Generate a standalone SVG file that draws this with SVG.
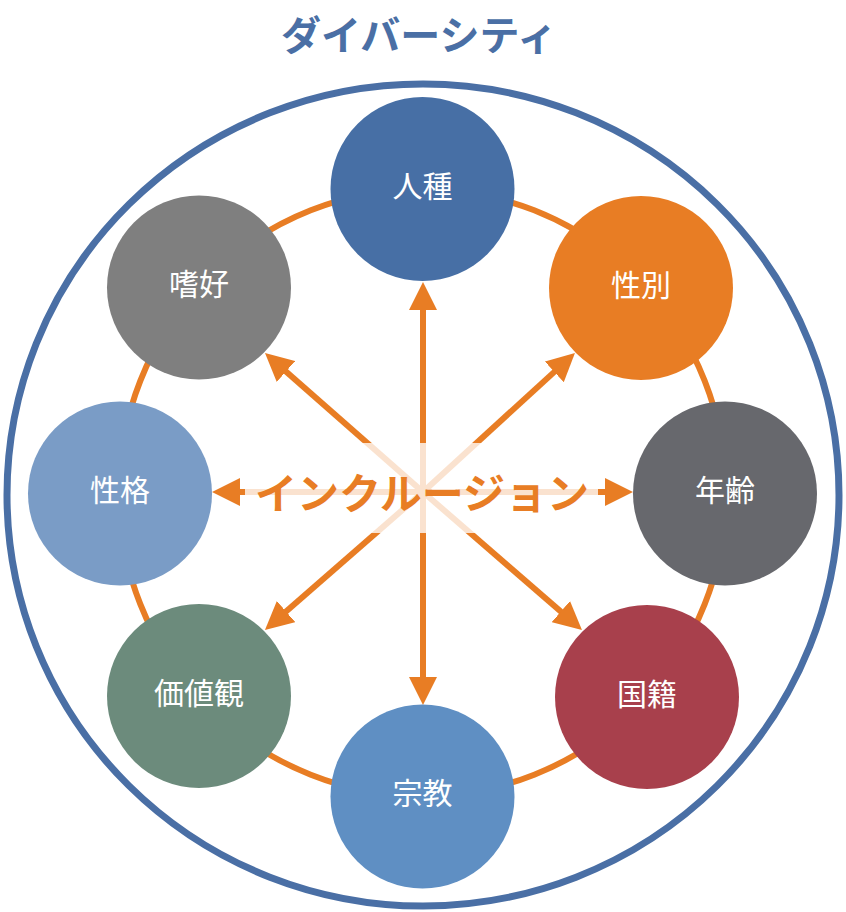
<svg xmlns="http://www.w3.org/2000/svg" width="846" height="912" viewBox="0 0 846 912">
<style>
.node-label{font-family:"Noto Sans CJK JP","Noto Sans",sans-serif;font-size:30px;fill:#ffffff;text-anchor:middle;}
.title{font-family:"Noto Sans CJK JP","Noto Sans",sans-serif;font-size:40px;font-weight:bold;fill:#4A6FA5;text-anchor:middle;}
.center{font-family:"Noto Sans CJK JP","Noto Sans",sans-serif;font-size:42px;font-weight:bold;fill:#E87D24;text-anchor:middle;}
.arrow{stroke:#E87D24;stroke-width:6;fill:none;marker-end:url(#ah);}
</style>
<defs>
<marker id="ah" markerUnits="userSpaceOnUse" markerWidth="28" markerHeight="28" viewBox="0 0 28 28" refX="16" refY="14" orient="auto">
<path d="M0,0 L28,14 L0,28 z" fill="#E87D24"/>
</marker>
</defs>
<rect width="846" height="912" fill="#ffffff"/>
<text class="title" x="419" y="50">ダイバーシティ</text>
<ellipse cx="423" cy="495" rx="416" ry="411" fill="none" stroke="#4A6FA5" stroke-width="7"/>
<circle cx="422.5" cy="492.5" r="303.5" fill="none" stroke="#E87D24" stroke-width="6"/>
<g id="connectors">
<line class="arrow" x1="423" y1="492" x2="423" y2="294"/>
<line class="arrow" x1="423" y1="492" x2="423" y2="693"/>
<line class="arrow" x1="423" y1="492" x2="621" y2="492"/>
<line class="arrow" x1="423" y1="492" x2="224" y2="492"/>
<line class="arrow" x1="423" y1="492" x2="274" y2="360.9"/>
<line class="arrow" x1="423" y1="492" x2="566.1" y2="361.1"/>
<line class="arrow" x1="423" y1="492" x2="274" y2="622.1"/>
<line class="arrow" x1="423" y1="492" x2="572.9" y2="622.1"/>
</g>
<g id="inclusion">
<rect x="245" y="443" width="353" height="90" fill="#ffffff" fill-opacity="0.78"/>
<text class="center" x="422" y="509">インクルージョン</text>
</g>
<g id="jinshu"><circle cx="422.5" cy="189" r="92" fill="#476FA5"/><text class="node-label" x="422.5" y="197">人種</text></g>
<g id="seibetsu"><circle cx="641" cy="288" r="92" fill="#E87D24"/><text class="node-label" x="641" y="296">性別</text></g>
<g id="nenrei"><circle cx="725" cy="493.5" r="92" fill="#67686D"/><text class="node-label" x="725" y="501">年齢</text></g>
<g id="kokuseki"><circle cx="647" cy="697" r="92" fill="#A8404C"/><text class="node-label" x="647" y="705">国籍</text></g>
<g id="shukyo"><circle cx="422.5" cy="796.5" r="92" fill="#5F8FC3"/><text class="node-label" x="422.5" y="804">宗教</text></g>
<g id="kachikan"><circle cx="199" cy="696" r="92" fill="#6C8B7C"/><text class="node-label" x="199" y="704">価値観</text></g>
<g id="seikaku"><circle cx="120" cy="493.5" r="92" fill="#7A9CC6"/><text class="node-label" x="120" y="501">性格</text></g>
<g id="shiko"><circle cx="199" cy="287.5" r="92" fill="#7F7F7F"/><text class="node-label" x="199" y="295">嗜好</text></g>
</svg>
